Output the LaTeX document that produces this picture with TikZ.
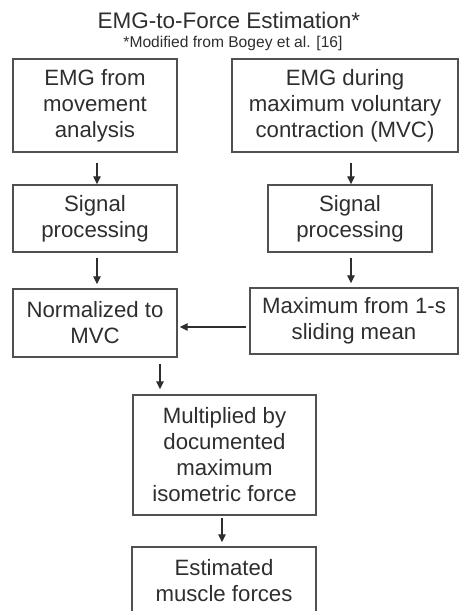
\documentclass[tikz,border=0pt]{standalone}
\usepackage{fontspec}
\setmainfont{Liberation Sans}
\usetikzlibrary{arrows.meta}
\definecolor{txt}{HTML}{2E2E2E}
\definecolor{edge}{HTML}{505050}
\begin{document}
\begin{tikzpicture}[x=1pt,y=-1pt,
  box/.style={draw=edge,line width=1.4pt,text=txt,align=center,inner sep=0pt,
    font=\fontsize{22.2}{26}\selectfont},
  arr/.style={draw=txt,line width=1.3pt,-{Triangle[length=8pt,width=7.5pt]}}]
\useasboundingbox (0,0) rectangle (459,611);
\clip (0,0) rectangle (459,611);
\node[text=txt,font=\fontsize{22.5}{26}\selectfont] (title) at (229,20) {EMG-to-Force Estimation*};
\node[text=txt,font=\fontsize{15.6}{18}\selectfont] (sub) at (233,43) {*Modified from Bogey et al. [16]};
\node[box,minimum width=164pt,minimum height=93pt] (b1) at (95,105.5) {EMG from\\movement\\analysis};
\node[box,minimum width=226pt,minimum height=93pt] (b2) at (345,105.5) {EMG during\\maximum voluntary\\contraction (MVC)};
\node[box,minimum width=164pt,minimum height=67pt] (s1) at (95,218.5) {Signal\\processing};
\node[box,minimum width=164pt,minimum height=67pt] (s2) at (350,218.5) {Signal\\processing};
\node[box,minimum width=164pt,minimum height=68pt] (n) at (95,323) {Normalized to\\MVC};
\node[box,minimum width=208pt,minimum height=66pt] (m) at (354,321) {Maximum from 1-s\\sliding mean};
\node[box,minimum width=183pt,minimum height=120pt] (mult) at (224.5,455) {Multiplied by\\documented\\maximum\\isometric force};
\node[box,minimum width=184pt,minimum height=67pt] (est) at (224,580.5) {Estimated\\muscle forces};
\coordinate (c1) at (97,0);
\coordinate (c2) at (351,0);
\coordinate (c3) at (160,0);
\coordinate (c4) at (222,0);
\draw[arr,shorten <=10pt] (c1 |- b1.south) -- (c1 |- s1.north);
\draw[arr,shorten <=10pt] (c2 |- b2.south) -- (c2 |- s2.north);
\draw[arr,shorten <=5pt,shorten >=4pt] (c1 |- s1.south) -- (c1 |- n.north);
\draw[arr,shorten <=5pt,shorten >=4pt] (c2 |- s2.south) -- (c2 |- m.north);
\draw[arr,shorten <=3pt,shorten >=2pt] (m.west |- 0,327) -- (n.east |- 0,327);
\draw[arr,shorten <=6pt,shorten >=5pt] (c3 |- n.south) -- (c3 |- mult.north);
\draw[arr,shorten <=2pt,shorten >=4pt] (c4 |- mult.south) -- (c4 |- est.north);
\end{tikzpicture}
\end{document}
